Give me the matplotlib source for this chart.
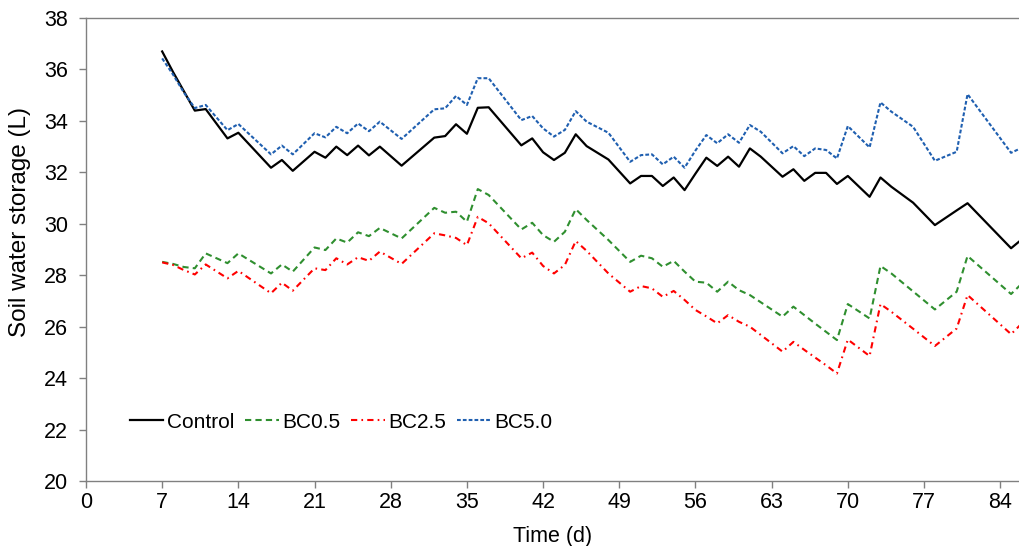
import matplotlib
matplotlib.use("Agg")
import matplotlib.pyplot as plt

plt.rcParams['font.family'] = ['Liberation Sans', 'DejaVu Sans']

# days where the curves change direction
days = [7, 8, 9, 10, 11, 13, 14, 17, 18, 19, 21, 22, 23, 24, 25, 26, 27, 29,
        32, 33, 34, 35, 36, 37, 40, 41, 42, 43, 44, 45, 46, 48, 50, 51, 52,
        53, 54, 55, 56, 57, 58, 59, 60, 61, 62, 64, 65, 66, 67, 68, 69, 70,
        72, 73, 74, 76, 78, 80, 81, 85, 86]

control = [36.70, 35.90, 35.15, 34.40, 34.46, 33.32, 33.54, 32.18, 32.48, 32.06,
           32.80, 32.57, 33.00, 32.67, 33.04, 32.66, 33.00, 32.26,
           33.35, 33.41, 33.87, 33.50, 34.51, 34.53, 33.05, 33.32, 32.78, 32.48,
           32.76, 33.48, 33.02, 32.50, 31.57, 31.86, 31.86,
           31.47, 31.80, 31.31, 31.95, 32.57, 32.25, 32.61, 32.22, 32.93, 32.61,
           31.83, 32.12, 31.67, 31.98, 31.98, 31.55, 31.86,
           31.05, 31.80, 31.44, 30.82, 29.95, 30.52, 30.80, 29.05, 29.40]

bc05 = [28.52, 28.44, 28.32, 28.27, 28.85, 28.47, 28.85, 28.07, 28.42, 28.14,
        29.08, 28.98, 29.43, 29.27, 29.67, 29.52, 29.84, 29.43,
        30.62, 30.43, 30.47, 30.08, 31.35, 31.12, 29.78, 30.04, 29.56, 29.30,
        29.69, 30.57, 30.15, 29.37, 28.52, 28.76, 28.66,
        28.33, 28.56, 28.14, 27.75, 27.71, 27.36, 27.75, 27.42, 27.23, 26.95,
        26.39, 26.78, 26.45, 26.12, 25.80, 25.48, 26.88,
        26.32, 28.36, 28.07, 27.37, 26.67, 27.36, 28.75, 27.27, 27.68]

bc25 = [28.50, 28.40, 28.20, 28.03, 28.42, 27.88, 28.17, 27.30, 27.71, 27.40,
        28.27, 28.20, 28.66, 28.42, 28.70, 28.56, 28.92, 28.44,
        29.63, 29.55, 29.45, 29.17, 30.27, 30.02, 28.66, 28.88, 28.36, 28.07,
        28.40, 29.33, 28.95, 28.07, 27.36, 27.58, 27.49,
        27.16, 27.39, 27.04, 26.65, 26.40, 26.13, 26.45, 26.19, 26.00, 25.68,
        25.03, 25.41, 25.10, 24.80, 24.50, 24.18, 25.50,
        24.86, 26.88, 26.58, 25.92, 25.25, 25.93, 27.23, 25.71, 26.13]

bc50 = [36.43, 35.80, 35.10, 34.50, 34.62, 33.64, 33.88, 32.70, 33.04, 32.70,
        33.52, 33.36, 33.77, 33.52, 33.90, 33.60, 33.97, 33.30,
        34.45, 34.49, 34.97, 34.62, 35.66, 35.66, 34.03, 34.19, 33.71, 33.39,
        33.65, 34.38, 33.97, 33.54, 32.41, 32.67, 32.70,
        32.31, 32.61, 32.18, 32.85, 33.45, 33.13, 33.48, 33.15, 33.84, 33.58,
        32.74, 33.02, 32.63, 32.93, 32.87, 32.54, 33.80,
        32.97, 34.72, 34.36, 33.77, 32.45, 32.80, 35.04, 32.76, 32.96]

fig = plt.figure(figsize=(10.2, 5.46), dpi=100)
ax = fig.add_axes([0.0843, 0.119, 0.9157, 0.848])

ax.plot(days, control, color='black', linewidth=1.6, label='Control')
ax.plot(days, bc05, color='#2f8f2f', linewidth=1.5, dashes=(3.0, 2.0), label='BC0.5')
ax.plot(days, bc25, color='#ff0000', linewidth=1.5, dashes=(3.0, 2.0, 0.8, 2.0), label='BC2.5')
ax.plot(days, bc50, color='#1f5fb0', linewidth=1.5, dashes=(1.8, 1.0), label='BC5.0')

fs = 15.5
ax.set_xlim(0, 85.82)
ax.set_ylim(20, 38)
ax.set_xticks(range(0, 85, 7))
ax.set_yticks(range(20, 39, 2))
ax.set_xlabel('Time (d)', fontsize=fs, labelpad=9)
ax.set_ylabel('Soil water storage (L)', fontsize=17.5, va='center')
ax.yaxis.set_label_coords(-0.0707, 0.559)

for side in ['left', 'bottom', 'top']:
    ax.spines[side].set_color('#808080')
    ax.spines[side].set_linewidth(1.0)
ax.spines['right'].set_visible(False)
ax.tick_params(axis='both', direction='out', length=5, width=1.0, color='#808080',
               labelsize=fs, labelcolor='black')
ax.tick_params(axis='y', pad=8)
ax.tick_params(axis='x', pad=3)

ax.legend(loc='center left', bbox_to_anchor=(0.047, 0.127), ncol=4, frameon=False,
          fontsize=15, handlelength=1.6, handletextpad=0.2, columnspacing=0.5,
          borderaxespad=0, borderpad=0)

fig.savefig('out.png', dpi=100)
